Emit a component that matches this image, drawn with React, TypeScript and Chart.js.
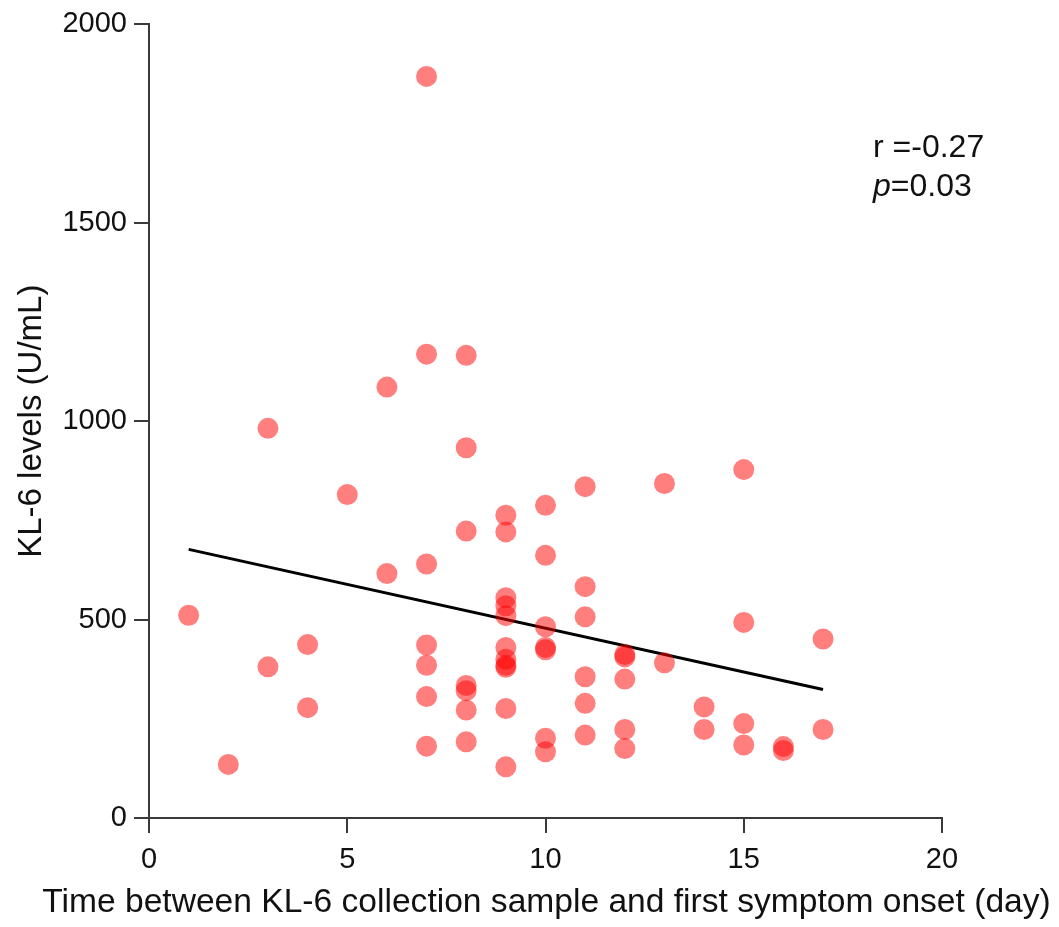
import React, { useEffect, useRef } from "react";
import { Chart, registerables } from "chart.js";

Chart.register(...registerables);

// Days between sample collection and first symptom onset
const days: number[] = [
  1,
  2,
  3, 3,
  4, 4,
  5,
  6, 6,
  7, 7, 7, 7, 7, 7, 7,
  8, 8, 8, 8, 8, 8, 8,
  9, 9, 9, 9, 9, 9, 9, 9, 9, 9, 9,
  10, 10, 10, 10, 10, 10, 10,
  11, 11, 11, 11, 11, 11,
  12, 12, 12, 12, 12,
  13, 13,
  14, 14,
  15, 15, 15, 15,
  16, 16,
  17, 17,
];

// KL-6 levels (U/mL), same order as days
const kl6Levels: number[] = [
  511,
  135,
  982, 381,
  437, 278,
  815,
  1086, 616,
  1869, 1169, 640, 436, 385, 306, 181,
  1166, 933, 723, 334, 321, 272, 192,
  763, 721, 555, 535, 510, 430, 400, 385, 380, 276, 129,
  788, 662, 482, 430, 424, 201, 167,
  835, 583, 507, 356, 289, 209,
  412, 406, 350, 223, 175,
  843, 391,
  280, 223,
  878, 493, 238, 184,
  180, 170,
  451, 223,
];

// Regression line end points
const trendDays: number[] = [1, 17];
const trendLevels: number[] = [677, 324];

const xTicks: number[] = [0, 5, 10, 15, 20];
const yTicks: number[] = [0, 500, 1000, 1500, 2000];

const xTitle = "Time between KL-6 collection sample and first symptom onset (day)";
const yTitle = "KL-6 levels (U/mL)";
const rText = "r =-0.27";
const pLabel = "p";
const pValue = "=0.03";

const FONT = "'Liberation Sans', Arial, Helvetica, sans-serif";
const AXIS_COLOR = "#3a3a3a";
const TEXT_COLOR = "#111111";

// Draws the x-axis title (wider than the plot, so not clipped to the scale)
// and the correlation statistics in the upper right.
const textPlugin = {
  id: "extraText",
  afterDraw(chart: any) {
    const { ctx, chartArea } = chart;
    ctx.save();
    ctx.fillStyle = TEXT_COLOR;

    ctx.font = `33.6px ${FONT}`;
    ctx.textAlign = "center";
    ctx.textBaseline = "middle";
    ctx.fillText(xTitle, (chartArea.left + chartArea.right) / 2 + 1, 903);

    ctx.textAlign = "left";
    ctx.textBaseline = "alphabetic";
    const x = chartArea.right - 69;
    ctx.font = `32px ${FONT}`;
    ctx.fillText(rText, x, 157);
    ctx.font = `italic 32px ${FONT}`;
    ctx.fillText(pLabel, x, 196);
    const w = ctx.measureText(pLabel).width;
    ctx.font = `32px ${FONT}`;
    ctx.fillText(pValue, x + w, 196);
    ctx.restore();
  },
};

export default function App() {
  const canvasRef = useRef<HTMLCanvasElement | null>(null);

  useEffect(() => {
    document.body.style.margin = "0";
    const canvas = canvasRef.current;
    if (!canvas) return;

    const points = days.map((d, i) => ({ x: d, y: kl6Levels[i] }));
    const trend = trendDays.map((d, i) => ({ x: d, y: trendLevels[i] }));

    const chart = new Chart(canvas, {
      type: "scatter",
      data: {
        datasets: [
          {
            label: "KL-6",
            data: points,
            backgroundColor: "rgba(255, 0, 0, 0.5)",
            borderWidth: 0,
            pointRadius: 10.5,
            pointHoverRadius: 10.5,
          },
          {
            label: "Fit",
            type: "line",
            data: trend,
            borderColor: "#000",
            borderWidth: 3,
            pointRadius: 0,
            showLine: true,
            fill: false,
          } as any,
        ],
      },
      options: {
        animation: false,
        responsive: true,
        maintainAspectRatio: false,
        layout: { padding: { left: 0, right: 117, top: 24, bottom: 0 } },
        plugins: {
          legend: { display: false },
          tooltip: { enabled: false },
        },
        scales: {
          x: {
            type: "linear",
            min: 0,
            max: 20,
            afterBuildTicks: (scale: any) => {
              scale.ticks = xTicks.map((v) => ({ value: v }));
            },
            afterFit: (scale: any) => {
              scale.height = 109;
            },
            grid: {
              drawOnChartArea: false,
              drawTicks: true,
              tickLength: 15,
              color: AXIS_COLOR,
              lineWidth: 2,
            },
            border: { display: true, color: AXIS_COLOR, width: 2 },
            ticks: {
              color: TEXT_COLOR,
              padding: 10,
              maxRotation: 0,
              font: { family: FONT, size: 29 },
              callback: (v: any) => String(v),
            },
            title: { display: false },
          },
          y: {
            type: "linear",
            min: 0,
            max: 2000,
            afterBuildTicks: (scale: any) => {
              scale.ticks = yTicks.map((v) => ({ value: v }));
            },
            afterFit: (scale: any) => {
              scale.width = 149;
            },
            grid: {
              drawOnChartArea: false,
              drawTicks: true,
              tickLength: 15,
              color: AXIS_COLOR,
              lineWidth: 2,
            },
            border: { display: true, color: AXIS_COLOR, width: 2 },
            ticks: {
              color: TEXT_COLOR,
              padding: 7,
              font: { family: FONT, size: 29 },
              callback: (v: any) => String(v),
            },
            title: {
              display: true,
              text: yTitle,
              color: TEXT_COLOR,
              font: { family: FONT, size: 33 },
              padding: { top: 12, bottom: 0 },
            },
          },
        },
      },
      plugins: [textPlugin],
    });

    return () => chart.destroy();
  }, []);

  return (
    <div style={{ width: 1059, height: 927, position: "relative" }}>
      <canvas ref={canvasRef} />
    </div>
  );
}
